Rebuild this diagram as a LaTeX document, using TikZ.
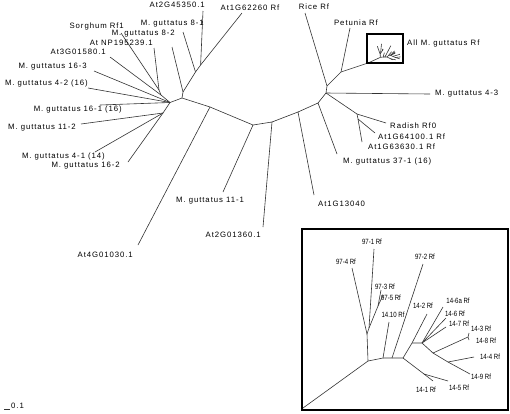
\documentclass[tikz,border=0pt]{standalone}
\usepackage{fontspec}
\setmainfont{Liberation Sans}
\newfontfamily\lblfont[LetterSpace=12]{Liberation Sans}
\newfontfamily\insfont[FakeStretch=0.8]{Liberation Sans}
\tikzset{
  br/.style={draw=black!80, line width=0.6bp},
  lbl/.style={inner sep=0pt, text=black, font=\lblfont\fontsize{7.8}{9}\selectfont},
  ilbl/.style={inner sep=0pt, text=black, font=\insfont\fontsize{7.6}{9}\selectfont},
  frame/.style={draw=black, line width=1.8bp},
  pics/gtree/.style={code={
    \coordinate (-r) at (0,0);
    \coordinate (-h1) at (65,-47);
    \coordinate (-v1) at (64,-74);
    \coordinate (-v2) at (66,-80);
    \coordinate (-v3) at (75,-102);
    \coordinate (-h2) at (80,-50);
    \coordinate (-h2b) at (89,-50);
    \coordinate (-h3) at (100,-50);
    \coordinate (-h4) at (121,-34);
    \coordinate (-h5) at (109,-65);
    \coordinate (-h6) at (119,-65);
    \coordinate (-h7) at (130,-55);
    \coordinate (-h8) at (165,-71);
    \coordinate (-h9) at (145,-46);
    \coordinate (-l974) at (49,-140);
    \coordinate (-l971) at (71,-159);
    \coordinate (-l973) at (78,-118);
    \coordinate (-l975) at (80,-113);
    \coordinate (-l1410) at (86,-86);
    \coordinate (-l972) at (120,-144);
    \coordinate (-l141) at (130,-27);
    \coordinate (-l145) at (145,-27);
    \coordinate (-l142) at (124,-94);
    \coordinate (-l146a) at (140,-101);
    \coordinate (-l146) at (143,-90);
    \coordinate (-l147) at (143,-81);
    \coordinate (-l143) at (166,-75);
    \coordinate (-l148) at (166,-68);
    \coordinate (-l144) at (171,-51);
    \coordinate (-l149) at (167,-34);
    \draw[br] (-r) -- (-h1) -- (-v1) -- (-l974);
    \draw[br] (-v1) -- (-v2) -- (-l971);
    \draw[br] (-v2) -- (-v3) -- (-l973);
    \draw[br] (-v3) -- (-l975);
    \draw[br] (-h1) -- (-h2) -- (-l1410);
    \draw[br] (-h2) -- (-h2b) -- (-l972);
    \draw[br] (-h2b) -- (-h3) -- (-h4) -- (-l141);
    \draw[br] (-h4) -- (-l145);
    \draw[br] (-h3) -- (-h5) -- (-l142);
    \draw[br] (-h5) -- (-h6) -- (-l146a);
    \draw[br] (-h6) -- (-l146);
    \draw[br] (-h6) -- (-l147);
    \draw[br] (-h6) -- (-h7) -- (-h8) -- (-l143);
    \draw[br] (-h8) -- (-l148);
    \draw[br] (-h7) -- (-h9) -- (-l144);
    \draw[br] (-h9) -- (-l149);
  }}
}
\begin{document}
\begin{tikzpicture}[x=1bp,y=-1bp]
\useasboundingbox[fill=white] (0,0) rectangle (510,413);
% internal nodes
\coordinate (A) at (170,102.5);
\coordinate (B) at (182,98);
\coordinate (C) at (210,107);
\coordinate (D) at (183,92);
\coordinate (E) at (195.5,72);
\coordinate (F) at (200.6,65);
\coordinate (G) at (253,125);
\coordinate (I) at (272,122);
\coordinate (J) at (298,112);
\coordinate (K) at (318,103);
\coordinate (L) at (326,93);
\coordinate (N) at (327,86);
\coordinate (O) at (341,72);
\coordinate (M) at (357,114);
\coordinate (M2) at (358,119);
\coordinate (P) at (161,95);
\coordinate (Q) at (159,90);
\coordinate (R) at (163,113);
% leaves
\coordinate (lAtIIa) at (203,11);
\coordinate (lAtIb) at (242,13);
\coordinate (lEIa) at (183,32);
\coordinate (lEIb) at (172,47);
\coordinate (lSorg) at (121,33);
\coordinate (lNP) at (154,48);
\coordinate (lAtIIIa) at (110,57);
\coordinate (lSIIIa) at (94,71);
\coordinate (lFIIa) at (88,88);
\coordinate (lSIa) at (100,105);
\coordinate (lEIIb) at (81,124);
\coordinate (lFIa) at (95,152);
\coordinate (lSIIb) at (128,162);
\coordinate (lAtIV) at (138,245);
\coordinate (lEIIa) at (223,192);
\coordinate (lAtIIc) at (263,227);
\coordinate (lAtIc) at (314,195);
\coordinate (lTSIa) at (337,154);
\coordinate (lRice) at (305,13);
\coordinate (lPet) at (350,28);
\coordinate (lFIIIa) at (430,94);
\coordinate (lRad) at (386,123);
\coordinate (lAtId) at (375,133);
\coordinate (lAtIe) at (362,142);
% branches
\draw[br] (B) -- (A);
\draw[br] (B) -- (C);
\draw[br] (B) -- (D) -- (lEIb);
\draw[br] (D) -- (E) -- (lEIa);
\draw[br] (E) -- (F) -- (lAtIIa);
\draw[br] (F) -- (lAtIb);
\draw[br] (A) -- (P) -- (Q) -- (lSorg);
\draw[br] (Q) -- (lNP);
\draw[br] (P) -- (lAtIIIa);
\draw[br] (A) -- (lSIIIa);
\draw[br] (A) -- (lFIIa);
\draw[br] (A) -- (lSIa);
\draw[br] (A) -- (R) -- (lEIIb);
\draw[br] (R) -- (lFIa);
\draw[br] (R) -- (lSIIb);
\draw[br] (C) -- (lAtIV);
\draw[br] (C) -- (G) -- (lEIIa);
\draw[br] (G) -- (I) -- (lAtIIc);
\draw[br] (I) -- (J) -- (lAtIc);
\draw[br] (J) -- (K) -- (lTSIa);
\draw[br] (K) -- (L) -- (N) -- (lRice);
\draw[br] (N) -- (O) -- (lPet);
\draw[br] (L) -- (lFIIIa);
\draw[br] (L) -- (M) -- (lRad);
\draw[br] (M) -- (M2) -- (lAtId);
\draw[br] (M2) -- (lAtIe);
% small box with mini tree
\pic[xscale=0.19,yscale=0.12] (mini) at (368,63) {gtree};
\draw[br] (O) -- (mini-r);
\node[frame, minimum width=36bp, minimum height=29bp, inner sep=0pt] (smallbox) at (385,48.5) {};
\node[lbl, anchor=west] (tAll) at (407,43) {All M. guttatus Rf};
% main labels
\node[lbl, anchor=east] (tAtIIa) at (205,4.5) {At2G45350.1};
\node[lbl] (tAtIb) at (250,8) {At1G62260 Rf};
\node[lbl] (tRice) at (314,7) {Rice Rf};
\node[lbl] (tPet) at (356,23) {Petunia Rf};
\node[lbl, anchor=west] (tFIIIa) at (435,94) {M. guttatus 4-3};
\node[lbl, anchor=west] (tRad) at (390,126) {Radish Rf0};
\node[lbl, anchor=west] (tAtId) at (378,137) {At1G64100.1 Rf};
\node[lbl, anchor=west] (tAtIe) at (368,147) {At1G63630.1 Rf};
\node[lbl, anchor=west] (tTSIa) at (343,161) {M. guttatus 37-1 (16)};
\node[lbl, anchor=west] (tAtIc) at (318,204) {At1G13040};
\node[lbl, anchor=east] (tAtIIc) at (261,235) {At2G01360.1};
\node[lbl] (tEIIa) at (210,201) {M. guttatus 11-1};
\node[lbl, anchor=east] (tAtIV) at (133,255) {At4G01030.1};
\node[lbl, anchor=east] (tFIa) at (105,156) {M. guttatus 4-1 (14)};
\node[lbl, anchor=east] (tSIIb) at (120,166) {M. guttatus 16-2};
\node[lbl, anchor=east] (tEIIb) at (76,128) {M. guttatus 11-2};
\node[lbl, anchor=east] (tSIa) at (122,109) {M. guttatus 16-1 (16)};
\node[lbl, anchor=east] (tFIIa) at (88,83) {M. guttatus 4-2 (16)};
\node[lbl, anchor=east] (tSIIIa) at (87,67) {M. guttatus 16-3};
\node[lbl, anchor=east] (tAtIIIa) at (106,52) {At3G01580.1};
\node[lbl, anchor=east] (tNP) at (153,43) {At NP195239.1};
\node[lbl, anchor=east] (tEIb) at (175,34) {M. guttatus 8-2};
\node[lbl, anchor=east] (tSorg) at (124,26) {Sorghum Rf1};
\node[lbl, anchor=east] (tEIa) at (204,24) {M. guttatus 8-1};
% scale bar
\coordinate (sbA) at (4,409);
\coordinate (sbB) at (10,409);
\draw[br] (sbA) -- (sbB);
\node[lbl, anchor=west] (tScale) at (11,406) {0.1};
% inset
\node[frame, minimum width=206bp, minimum height=181bp, inner sep=0pt] (bigbox) at (405,319.5) {};
\pic (big) at (303,408) {gtree};
\node[ilbl] (t971) at (372,242) {97-1 Rf};
\node[ilbl] (t974) at (346,262) {97-4 Rf};
\node[ilbl] (t973) at (385,287) {97-3 Rf};
\node[ilbl] (t975) at (391,298) {97-5 Rf};
\node[ilbl] (t1410) at (393,315) {14.10 Rf};
\node[ilbl] (t972) at (425,257) {97-2 Rf};
\node[ilbl] (t142) at (423,306) {14-2 Rf};
\node[ilbl] (t146a) at (458,301) {14-6a Rf};
\node[ilbl] (t146) at (455,314) {14-6 Rf};
\node[ilbl] (t147) at (459,324) {14-7 Rf};
\node[ilbl] (t143) at (481,329) {14-3 Rf};
\node[ilbl] (t148) at (486,341) {14-8 Rf};
\node[ilbl] (t144) at (490,357) {14-4 Rf};
\node[ilbl] (t149) at (481,377) {14-9 Rf};
\node[ilbl] (t141) at (426,390) {14-1 Rf};
\node[ilbl] (t145) at (459,388) {14-5 Rf};
\end{tikzpicture}
\end{document}
